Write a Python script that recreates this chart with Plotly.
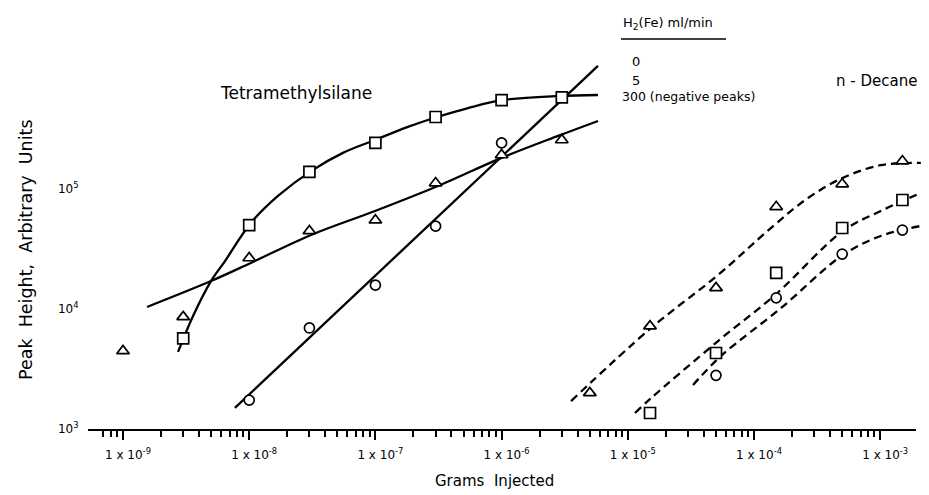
import plotly.graph_objects as go

# ---------------- data ----------------
# Tetramethylsilane measured points
tms_tri_x = [1e-9, 3e-9, 1e-8, 3e-8, 1e-7, 3e-7, 1e-6, 3e-6]
tms_tri_y = [4.47e3, 8.6e3, 2.66e4, 4.47e4, 5.5e4, 1.12e5, 1.92e5, 2.56e5]
tms_sq_x = [3e-9, 1e-8, 3e-8, 1e-7, 3e-7, 1e-6, 3e-6]
tms_sq_y = [5.7e3, 5.0e4, 1.39e5, 2.42e5, 3.98e5, 5.5e5, 5.8e5]
tms_ci_x = [1e-8, 3e-8, 1e-7, 3e-7, 1e-6]
tms_ci_y = [1.74e3, 6.95e3, 1.58e4, 4.9e4, 2.42e5]

# Tetramethylsilane drawn curves
tms_sq_curve_x = [2.73e-9, 3.59e-9, 4.98e-9, 6.43e-9, 1.03e-8, 1.69e-8, 3.09e-8, 5.53e-8,
                  9.93e-8, 1.81e-7, 3.08e-7, 5.42e-7, 1.03e-6, 2.80e-6, 5.81e-6]
tms_sq_curve_y = [4.39e3, 8.75e3, 1.71e4, 2.51e4, 5.21e4, 8.75e4, 1.41e5, 2.0e5,
                  2.56e5, 3.29e5, 3.98e5, 4.73e5, 5.52e5, 5.96e5, 6.07e5]
tms_tri_curve_x = [1.55e-9, 4.98e-9, 1.03e-8, 3.09e-8, 9.93e-8, 3.13e-7, 9.89e-7, 2.80e-6, 5.81e-6]
tms_tri_curve_y = [1.04e4, 1.71e4, 2.42e4, 4.14e4, 6.56e4, 1.06e5, 1.81e5, 2.77e5, 3.69e5]
tms_ci_curve_x = [7.7e-9, 5.8e-6]
tms_ci_curve_y = [1.5e3, 1.06e6]

# n-Decane measured points
dec_tri_x = [5e-6, 1.5e-5, 5e-5, 1.5e-4, 5e-4, 1.5e-3]
dec_tri_y = [2.0e3, 7.2e3, 1.5e4, 7.1e4, 1.1e5, 1.71e5]
dec_sq_x = [1.5e-5, 5e-5, 1.5e-4, 5e-4, 1.5e-3]
dec_sq_y = [1.36e3, 4.3e3, 2.0e4, 4.73e4, 8.1e4]
dec_ci_x = [5e-5, 1.5e-4, 5e-4, 1.5e-3]
dec_ci_y = [2.8e3, 1.24e4, 2.87e4, 4.55e4]

# n-Decane drawn (dashed) curves
dec_tri_curve_x = [3.55e-6, 1.53e-5, 5.19e-5, 1.36e-4, 2.68e-4, 5.07e-4, 1.01e-3, 2.10e-3]
dec_tri_curve_y = [1.71e3, 6.95e3, 1.92e4, 4.73e4, 8.41e4, 1.24e5, 1.58e5, 1.65e5]
dec_sq_curve_x = [1.14e-5, 1.53e-5, 5.19e-5, 1.47e-4, 5.07e-4, 1.01e-3, 2.10e-3]
dec_sq_curve_y = [1.36e3, 1.81e3, 5.41e3, 1.31e4, 4.47e4, 6.56e4, 9.27e4]
dec_ci_curve_x = [3.29e-5, 5.48e-5, 1.64e-4, 5.07e-4, 1.01e-3, 2.10e-3]
dec_ci_curve_y = [2.33e3, 4.06e3, 1.02e4, 2.82e4, 4.06e4, 4.92e4]

# tick labels
x_tick_vals = [1e-9, 1e-8, 1e-7, 1e-6, 1e-5, 1e-4, 1e-3]
x_tick_text = ["1 x 10<sup>-9</sup>", "1 x 10<sup>-8</sup>", "1 x 10<sup>-7</sup>",
               "1 x 10<sup>-6</sup>", "1 x 10<sup>-5</sup>", "1 x 10<sup>-4</sup>",
               "1 x 10<sup>-3</sup>"]
y_tick_vals = [1e3, 1e4, 1e5]
y_tick_text = ["10<sup>3</sup>", "10<sup>4</sup>", "10<sup>5</sup>"]

legend_title = "H<sub>2</sub>(Fe) ml/min"
legend_rows = ["0", "5", "300 (negative peaks)"]

# ---------------- layout geometry (pixels) ----------------
W, H = 929, 495
L, R, T, B = 80, 921, 50, 421          # data plotting area
X_AX_END = 908                          # visible x axis right end
Y_AX_TOP = 75                           # visible y axis top
Y_AX_X = 93                             # y axis line position
X0PX, XDEC = 115, 126.2                 # pixel of 1e-9, pixels per decade
YDEC = 120.0                            # pixels per decade (y)


def xl(px):
    return -9 + (px - X0PX) / XDEC


def PX(px):
    return (px - L) / (R - L)


def PY(py):
    return (B - py) / (B - T)


FONT = "DejaVu Sans"
BLACK = "black"

fig = go.Figure()

line_solid = dict(color=BLACK, width=2.3)
line_dash = dict(color=BLACK, width=2.3, dash="8px,5px")
common = dict(xaxis="x2", yaxis="y2", showlegend=False, hoverinfo="skip")

# curves
fig.add_trace(go.Scatter(x=tms_sq_curve_x, y=tms_sq_curve_y, mode="lines",
                         line=dict(**line_solid, shape="spline", smoothing=1.0), **common))
fig.add_trace(go.Scatter(x=tms_tri_curve_x, y=tms_tri_curve_y, mode="lines",
                         line=dict(**line_solid, shape="spline", smoothing=1.0), **common))
fig.add_trace(go.Scatter(x=tms_ci_curve_x, y=tms_ci_curve_y, mode="lines",
                         line=line_solid, **common))
fig.add_trace(go.Scatter(x=dec_tri_curve_x, y=dec_tri_curve_y, mode="lines",
                         line=dict(**line_dash, shape="spline", smoothing=1.0), **common))
fig.add_trace(go.Scatter(x=dec_sq_curve_x, y=dec_sq_curve_y, mode="lines",
                         line=dict(**line_dash, shape="spline", smoothing=1.0), **common))
fig.add_trace(go.Scatter(x=dec_ci_curve_x, y=dec_ci_curve_y, mode="lines",
                         line=dict(**line_dash, shape="spline", smoothing=1.0), **common))


# markers
def mk(symbol, size):
    return dict(symbol=symbol, size=size, color="white", line=dict(color=BLACK, width=1.7))


for xs, ys, sym, sz in [
    (tms_tri_x, tms_tri_y, "triangle-up", 11),
    (tms_sq_x, tms_sq_y, "square", 11),
    (tms_ci_x, tms_ci_y, "circle", 10),
    (dec_tri_x, dec_tri_y, "triangle-up", 11),
    (dec_sq_x, dec_sq_y, "square", 11),
    (dec_ci_x, dec_ci_y, "circle", 10),
]:
    fig.add_trace(go.Scatter(x=xs, y=ys, mode="markers", marker=mk(sym, sz), **common))

# dummy trace to create the visible-axes subplot
fig.add_trace(go.Scatter(x=[1e-6], y=[1e4], mode="markers", marker=dict(opacity=0),
                         xaxis="x", yaxis="y", showlegend=False, hoverinfo="skip"))

x_lo, x_hi = xl(L), xl(R)
y_hi_data = 3 + (B - T) / YDEC

x_minor = [m * 10.0 ** e for e in range(-10, -2) for m in range(2, 10)]
x_minor = [v for v in x_minor if 6.5e-10 < v < 1.9e-3]
y_minor = [m * 10.0 ** e for e in range(3, 6) for m in range(2, 10)]

fig.update_layout(
    width=W, height=H,
    margin=dict(l=L, r=W - R, t=T, b=H - B, pad=0),
    paper_bgcolor="white", plot_bgcolor="white",
    font=dict(family=FONT, color=BLACK, size=14),
    xaxis=dict(type="log", domain=[0, PX(X_AX_END)], range=[x_lo, xl(X_AX_END)],
               anchor="y", showgrid=False, zeroline=False,
               showline=True, linecolor=BLACK, linewidth=2,
               ticks="outside", ticklen=9, tickwidth=1.5, tickcolor=BLACK,
               tickmode="array", tickvals=x_tick_vals, ticktext=x_tick_text,
               tickfont=dict(family=FONT, size=12, color=BLACK),
               ticklabelshift=5, ticklabelstandoff=5,
               minor=dict(tickmode="array", tickvals=x_minor, ticks="outside",
                          ticklen=6, tickwidth=1.5, tickcolor=BLACK, showgrid=False)),
    yaxis=dict(type="log", domain=[0, PY(Y_AX_TOP)], range=[3, 3 + (B - Y_AX_TOP) / YDEC],
               anchor="free", position=PX(Y_AX_X), showgrid=False, zeroline=False,
               showline=True, linecolor=BLACK, linewidth=2,
               ticks="outside", ticklen=9, tickwidth=1.5, tickcolor=BLACK,
               tickmode="array", tickvals=y_tick_vals, ticktext=y_tick_text,
               tickfont=dict(family=FONT, size=12, color=BLACK),
               ticklabelstandoff=10,
               minor=dict(tickmode="array", tickvals=y_minor, ticks="outside",
                          ticklen=6, tickwidth=1.5, tickcolor=BLACK, showgrid=False)),
    xaxis2=dict(type="log", domain=[0, 1], range=[x_lo, x_hi], anchor="y2", visible=False),
    yaxis2=dict(type="log", domain=[0, 1], range=[3, y_hi_data], anchor="x2", visible=False),
)

ann = []


def text(s, px, py, size, xanchor="center", angle=0):
    ann.append(dict(text=s, x=PX(px), y=PY(py), xref="paper", yref="paper",
                    showarrow=False, xanchor=xanchor, yanchor="middle", textangle=angle,
                    font=dict(family=FONT, size=size, color=BLACK)))


text("Tetramethylsilane", 288, 85, 17)
text("n - Decane", 868, 73, 15)
text("Grams  Injected", 486, 473, 15)
text("Peak  Height,  Arbitrary  Units", 18, 242, 17.5, angle=-90)
text(legend_title, 613, 16, 13, xanchor="left")
text(legend_rows[0], 628, 53, 13)
text(legend_rows[1], 628, 72, 13)
text(legend_rows[2], 612, 88, 12.5, xanchor="left")
fig.update_layout(annotations=ann)

fig.add_shape(type="line", xref="paper", yref="paper",
              x0=PX(613), x1=PX(718), y0=PY(31), y1=PY(31),
              line=dict(color=BLACK, width=1.5))

fig.write_html("out.html")
